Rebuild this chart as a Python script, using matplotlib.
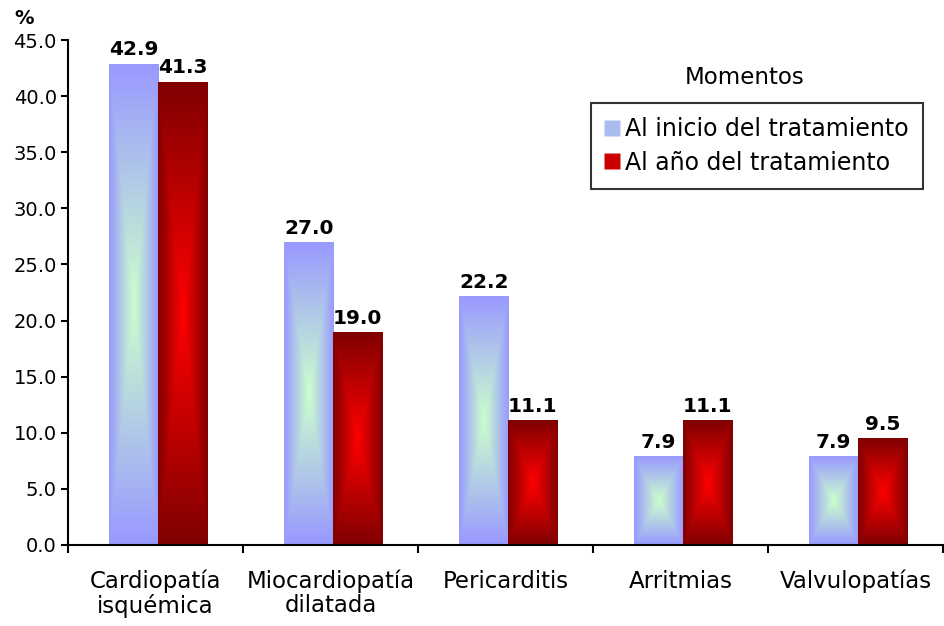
import numpy as np
from matplotlib import pyplot as plt
from matplotlib.colors import LinearSegmentedColormap
from matplotlib.lines import Line2D

categories = ["Cardiopatía\nisquémica", "Miocardiopatía\ndilatada", "Pericarditis", "Arritmias", "Valvulopatías"]
inicio = [42.9, 27.0, 22.2, 7.9, 7.9]
anio = [41.3, 19.0, 11.1, 11.1, 9.5]
series_names = ["Al inicio del tratamiento", "Al año del tratamiento"]

plt.rcParams['font.family'] = ['Verdana', 'DejaVu Sans']

blue_cmap = LinearSegmentedColormap.from_list("blue", ["#ccffcc", "#9999ff"])
red_cmap = LinearSegmentedColormap.from_list("red", ["#ff0000", "#800000"])

# rectangular "from center" gradient
u = np.linspace(-1, 1, 101)
uu, vv = np.meshgrid(u, u)
grad = np.maximum(np.abs(uu), np.abs(vv))

fig = plt.figure(figsize=(9.45, 6.26), dpi=100)
ax = fig.add_axes([0.072, 0.1294, 0.926, 0.8066])

width = 0.28
x = np.arange(len(categories)) + 0.5
for vals, cmap, off in [(inicio, blue_cmap, -width / 2 + 0.015), (anio, red_cmap, width / 2 + 0.015)]:
    bars = ax.bar(x + off, vals, width, color='none', edgecolor='none')
    for b, v in zip(bars, vals):
        x0, y0 = b.get_x(), b.get_y()
        w, h = b.get_width(), b.get_height()
        im = ax.imshow(grad, cmap=cmap, extent=[x0, x0 + w, y0, y0 + h],
                       aspect='auto', interpolation='bilinear', zorder=2)
        im.set_clip_path(b)
        ax.annotate(f"{v:.1f}", (x0 + w / 2, v), xytext=(0, 3), textcoords='offset points',
                    ha='center', va='bottom', fontsize=14.5, fontweight='bold')

ax.set_xlim(0, len(categories))
ax.set_ylim(0, 45)
ax.set_yticks(np.arange(0, 46, 5))
ax.set_yticklabels([f"{t:.1f}" for t in np.arange(0, 46, 5)], fontsize=14)
ax.set_xticks(np.arange(0, len(categories) + 1))
ax.set_xticklabels([])
ax.set_xticks(x, minor=True)
ax.set_xticklabels(categories, minor=True, fontsize=16.5, linespacing=1.05)
ax.tick_params(axis='x', which='minor', length=0, pad=18)
ax.tick_params(axis='x', which='major', length=6, width=1.5, direction='out')
ax.tick_params(axis='y', length=5, width=1.5, direction='out', pad=3)

for s in ['top', 'right']:
    ax.spines[s].set_visible(False)
for s in ['left', 'bottom']:
    ax.spines[s].set_linewidth(1.5)

fig.text(14 / 945, 1 - 18 / 626, "%", fontsize=14, fontweight='bold', ha='left', va='center')

handles = [Line2D([], [], marker='s', linestyle='none', markersize=11, markerfacecolor='#aabbee', markeredgecolor='none'),
           Line2D([], [], marker='s', linestyle='none', markersize=11, markerfacecolor='#cc0000', markeredgecolor='none')]
leg = fig.legend(handles, series_names, loc='upper left', bbox_to_anchor=(591 / 945, 1 - 103 / 626),
                 fontsize=17, frameon=True, fancybox=False, handlelength=0.6, handletextpad=0.25,
                 borderpad=0.6, labelspacing=0.4, borderaxespad=0)
leg.get_frame().set_edgecolor('black')
leg.get_frame().set_linewidth(1.5)
fig.text(745 / 945, 1 - 78 / 626, "Momentos", fontsize=16.5, ha='center', va='center')

plt.savefig('out.png')
